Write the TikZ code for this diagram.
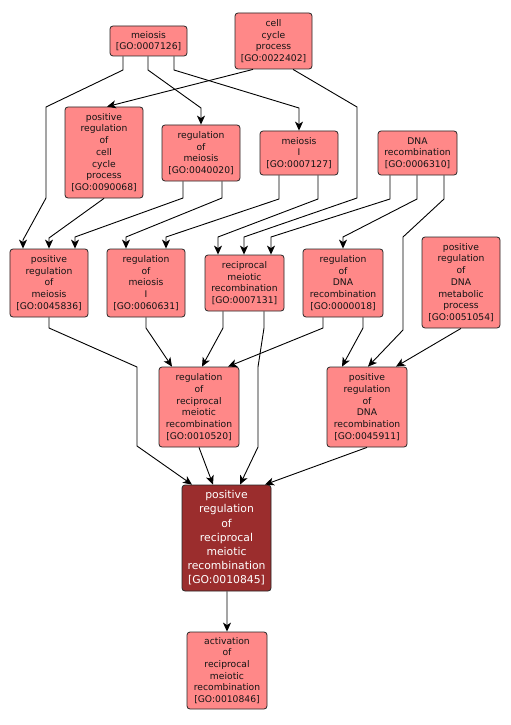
\documentclass[tikz,border=0pt]{standalone}
\usepackage{fontspec}
\setmainfont{DejaVu Sans}
\usetikzlibrary{arrows.meta}
\definecolor{gofill}{RGB}{255,136,136}
\definecolor{gomain}{RGB}{155,45,45}
\definecolor{gotext}{RGB}{20,20,20}
\tikzset{
  gobox/.style={draw=black!85, line width=0.8bp, rounded corners=3bp, fill=gofill,
    align=center, inner sep=0pt, text=gotext,
    font=\fontsize{9.2bp}{11.7bp}\selectfont},
  gomainbox/.style={gobox, fill=gomain, text=white,
    font=\fontsize{10.8bp}{14.2bp}\selectfont},
  goedge/.style={draw=black, line width=0.9bp, -{Stealth[length=9bp,width=8bp,inset=2.5bp]}},
}
\begin{document}
\begin{tikzpicture}[x=1bp,y=-1bp]
\useasboundingbox[fill=white] (0,0) rectangle (511,725);

\node[gobox, minimum width=77bp, minimum height=30bp] (m) at (148.5,41) {meiosis\\{[GO:0007126]}};
\node[gobox, minimum width=77bp, minimum height=56bp] (ccp) at (273.5,41) {cell\\cycle\\process\\{[GO:0022402]}};
\node[gobox, minimum width=78bp, minimum height=91bp] (prcc) at (104,152.5) {positive\\regulation\\of\\cell\\cycle\\process\\{[GO:0090068]}};
\node[gobox, minimum width=78bp, minimum height=56bp] (rm) at (201,153) {regulation\\of\\meiosis\\{[GO:0040020]}};
\node[gobox, minimum width=78bp, minimum height=44bp] (mI) at (299,153) {meiosis\\I\\{[GO:0007127]}};
\node[gobox, minimum width=79bp, minimum height=44bp] (dna) at (417.5,153) {DNA\\recombination\\{[GO:0006310]}};
\node[gobox, minimum width=78bp, minimum height=68bp] (prm) at (49,283) {positive\\regulation\\of\\meiosis\\{[GO:0045836]}};
\node[gobox, minimum width=78bp, minimum height=68bp] (rmI) at (146,283) {regulation\\of\\meiosis\\I\\{[GO:0060631]}};
\node[gobox, minimum width=79bp, minimum height=56bp] (rmr) at (244.5,283) {reciprocal\\meiotic\\recombination\\{[GO:0007131]}};
\node[gobox, minimum width=80bp, minimum height=68bp] (rdr) at (343,283) {regulation\\of\\DNA\\recombination\\{[GO:0000018]}};
\node[gobox, minimum width=78bp, minimum height=91bp] (prdm) at (461,282.5) {positive\\regulation\\of\\DNA\\metabolic\\process\\{[GO:0051054]}};
\node[gobox, minimum width=80bp, minimum height=80bp] (rrmr) at (199,407) {regulation\\of\\reciprocal\\meiotic\\recombination\\{[GO:0010520]}};
\node[gobox, minimum width=80bp, minimum height=80bp] (prdr) at (367,407) {positive\\regulation\\of\\DNA\\recombination\\{[GO:0045911]}};
\node[gomainbox, minimum width=89bp, minimum height=106bp] (main) at (226.5,538) {positive\\regulation\\of\\reciprocal\\meiotic\\recombination\\{[GO:0010845]}};
\node[gobox, minimum width=80bp, minimum height=77bp] (act) at (227,670.5) {activation\\of\\reciprocal\\meiotic\\recombination\\{[GO:0010846]}};

% edges
\draw[goedge] ([xshift=-25.5bp]m.south) -- (123,70) -- (46,107) -- (46,198) -- (23,240) -- ([xshift=-26bp]prm.north);
\draw[goedge] ([xshift=-0.5bp]m.south) -- (148,70) -- (201,108) -- (rm.north);
\draw[goedge] ([xshift=25.5bp]m.south) -- (174,70) -- (299,108) -- (mI.north);
\draw[goedge] ([xshift=-20.5bp]ccp.south) -- ([xshift=3bp]prcc.north);
\draw[goedge] ([xshift=19.5bp]ccp.south) -- (357,107) -- (357,198) -- (244,237) -- ([xshift=-0.5bp]rmr.north);
\draw[goedge] (prcc.south) -- (49,238) -- (prm.north);
\draw[goedge] ([xshift=-18bp]rm.south) -- (183,198) -- (75,237) -- ([xshift=26bp]prm.north);
\draw[goedge] ([xshift=21bp]rm.south) -- (222,198) -- (126,237) -- ([xshift=-20bp]rmI.north);
\draw[goedge] ([xshift=-20bp]mI.south) -- (279,199) -- (166,237) -- ([xshift=20bp]rmI.north);
\draw[goedge] ([xshift=19bp]mI.south) -- (318,199) -- (218,237) -- ([xshift=-26.5bp]rmr.north);
\draw[goedge] ([xshift=-27.5bp]dna.south) -- (390,199) -- (271,237) -- ([xshift=26.5bp]rmr.north);
\draw[goedge] ([xshift=-0.5bp]dna.south) -- (417,199) -- (343,237) -- (rdr.north);
\draw[goedge] ([xshift=26.5bp]dna.south) -- (444,199) -- (403,237) -- (403,330) -- ([xshift=1bp]prdr.north);
\draw[goedge] (prm.south) -- (49,328) -- (137,367) -- (137,446) -- ([xshift=-34.5bp]main.north);
\draw[goedge] (rmI.south) -- (146,328) -- ([xshift=-27bp]rrmr.north);
\draw[goedge] ([xshift=-21.5bp]rmr.south) -- (223,328) -- ([xshift=3bp]rrmr.north);
\draw[goedge] ([xshift=19.5bp]rmr.south) -- (264,328) -- (258,367) -- (258,447) -- ([xshift=13.5bp]main.north);
\draw[goedge] ([xshift=-20bp]rdr.south) -- (323,328) -- ([xshift=29bp]rrmr.north);
\draw[goedge] ([xshift=20bp]rdr.south) -- (363,328) -- ([xshift=-25bp]prdr.north);
\draw[goedge] (prdm.south) -- ([xshift=29bp]prdr.north);
\draw[goedge] (rrmr.south) -- ([xshift=-13.5bp]main.north);
\draw[goedge] (prdr.south) -- ([xshift=38.5bp]main.north);
\draw[goedge] ([xshift=0.5bp]main.south) -- (act.north);
\end{tikzpicture}
\end{document}
